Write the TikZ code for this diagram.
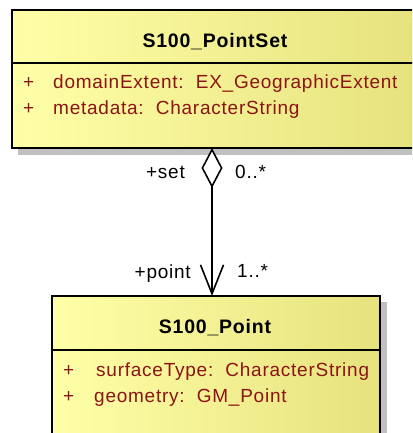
\documentclass[tikz,border=0pt]{standalone}
\usepackage{fontspec}
\setmainfont[LetterSpace=4]{Liberation Sans}
\usetikzlibrary{arrows.meta, positioning}

\definecolor{umlred}{RGB}{140,20,20}
\definecolor{umlpale}{RGB}{255,255,168}
\definecolor{umldark}{RGB}{230,226,126}
\definecolor{umlshadow}{RGB}{192,192,192}

\tikzset{
  classbox/.style={draw=black, line width=2pt, left color=umlpale, middle color=umlpale, right color=umldark},
  classshadow/.style={fill=umlshadow},
  classname/.style={font=\fontsize{19.5}{22}\selectfont\bfseries, inner sep=0pt, anchor=base},
  attrtext/.style={font=\fontsize{19}{22}\selectfont, text=umlred, inner sep=0pt, anchor=base west},
  rolelabel/.style={font=\fontsize{19}{22}\selectfont, inner sep=0pt},
  aggregation/.style={line width=1.6pt, {Diamond[open, fill=white, length=40pt, width=21pt]}-{Straight Barb[length=29pt, width=23pt]}}
}

\begin{document}
\begin{tikzpicture}[x=1pt, y=-1pt]
\useasboundingbox (0,0) rectangle (412,433);
\clip (0,0) rectangle (412,433);
% S100_PointSet
\fill[classshadow] (18,17) rectangle (425,155);
\draw[classbox] (12,10) rectangle (418,148);
\draw[line width=2pt] (12,63) -- (418,63);
\node[classname] (setname) at (215,48) {S100\_PointSet};
\node[attrtext] (setplusa) at (23,89) {+};
\node[attrtext] (setattra) at (53,89) {domainExtent:\ \ EX\_GeographicExtent};
\node[attrtext] (setplusb) at (23,114) {+};
\node[attrtext] (setattrb) at (53,114) {metadata:\ \ CharacterString};
% S100_Point
\fill[classshadow] (58,302) rectangle (387,470);
\draw[classbox] (52,296) rectangle (380,460);
\draw[line width=2pt] (52,350) -- (380,350);
\node[classname] (pointname) at (215,333) {S100\_Point};
\node[attrtext] (pointplusa) at (63,376) {+};
\node[attrtext] (pointattra) at (96,376) {surfaceType:\ \ CharacterString};
\node[attrtext] (pointplusb) at (63,402) {+};
\node[attrtext] (pointattrb) at (94,402) {geometry:\ \ GM\_Point};
% association
\coordinate (setend) at (212,148);
\coordinate (pointend) at (212,296);
\draw[aggregation] (setend) -- (pointend);
\node[rolelabel, anchor=base east] (setrole) at (185,178) {+set};
\node[rolelabel, anchor=base west] (setmult) at (235,178) {0..*};
\node[rolelabel, anchor=base east] (pointrole) at (191,278) {+point};
\node[rolelabel, anchor=base west] (pointmult) at (237,277) {1..*};
\end{tikzpicture}
\end{document}
